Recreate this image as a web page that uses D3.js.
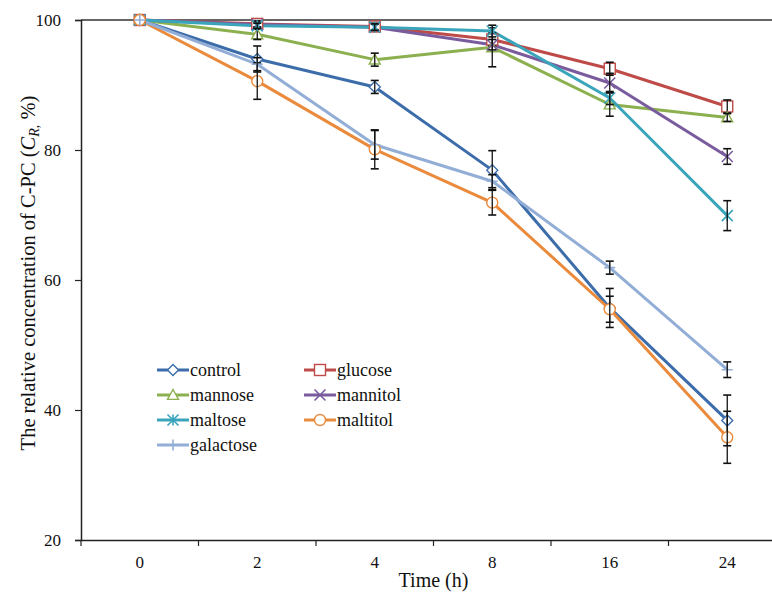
<!DOCTYPE html>
<html lang="en">
<head>
    <meta charset="UTF-8">
    <title>C-PC relative concentration</title>
    <script src="https://d3js.org/d3.v7.min.js"></script>
    <style>
        body { margin: 0; background: #fff; }
        svg { display: block; }
        svg text { font-family: "Liberation Serif", "Times New Roman", serif; }
    </style>
</head>
<body>
    <svg id="chart" width="772" height="597"></svg>
    <script>
        // data
        const times = ["0", "2", "4", "8", "16", "24"];
        const yTicks = [20, 40, 60, 80, 100];
        const seriesNames = ["control", "glucose", "mannose", "mannitol", "maltose", "maltitol", "galactose"];
        const control = [100, 94.0, 89.7, 76.9, 55.7, 38.4];
        const controlErr = [0, 2.0, 1.0, 3.0, 3.0, 3.9];
        const glucose = [100, 99.4, 99.0, 97.0, 92.5, 86.7];
        const glucoseErr = [0, 0.5, 0.5, 1.0, 1.0, 1.0];
        const mannose = [100, 97.8, 93.9, 95.8, 87.0, 85.0];
        const mannoseErr = [0, 0.8, 1.0, 3.0, 1.8, 0.6];
        const mannitol = [100, 99.3, 98.9, 96.2, 90.3, 79.0];
        const mannitolErr = [0, 0.4, 0.5, 0.8, 1.5, 1.2];
        const maltose = [100, 99.1, 98.9, 98.3, 88.0, 69.9];
        const maltoseErr = [0, 0.4, 0.5, 0.9, 1.0, 2.3];
        const maltitol = [100, 90.6, 80.1, 71.9, 55.5, 35.8];
        const maltitolErr = [0, 2.8, 3.0, 1.9, 2.0, 4.0];
        const galactose = [100, 93.2, 80.8, 75.2, 61.9, 46.2];
        const galactoseErr = [0, 1.0, 2.2, 1.0, 1.0, 1.2];

        const values = [control, glucose, mannose, mannitol, maltose, maltitol, galactose];
        const errors = [controlErr, glucoseErr, mannoseErr, mannitolErr, maltoseErr, maltitolErr, galactoseErr];
        const colors = ["#3C6DAA", "#BE4B48", "#8CB04F", "#7A5C9E", "#3AA5BA", "#EA8A3C", "#93AED6"];
        const markers = ["diamond", "square", "triangle", "cross", "asterisk", "circle", "plus"];

        const serif = "Liberation Serif";
        const svg = d3.select("#chart");
        const m = { left: 81, right: 786, top: 20, bottom: 540 };

        const x = d3.scaleBand().domain(times).range([m.left, m.right]);
        const y = d3.scaleLinear().domain([20, 100]).range([m.bottom, m.top]);

        // top line at 100
        svg.append("line")
            .attr("x1", m.left).attr("x2", 772)
            .attr("y1", y(100)).attr("y2", y(100))
            .attr("stroke", "#333").attr("stroke-width", 1.5);

        // y axis
        const yAxis = svg.append("g")
            .attr("transform", `translate(${m.left},0)`)
            .call(d3.axisLeft(y).tickValues(yTicks).tickSize(6).tickPadding(14))
            .attr("font-family", serif);
        yAxis.select(".domain").attr("stroke", "#222").attr("stroke-width", 1.5);
        yAxis.selectAll(".tick line").attr("stroke", "#222").attr("stroke-width", 1.2);
        yAxis.selectAll("text").attr("font-size", 17).attr("fill", "#111")
            .attr("font-family", serif);

        // x axis: ticks at band edges
        const xAxis = svg.append("g")
            .attr("transform", `translate(0,${m.bottom})`)
            .call(d3.axisBottom(x).tickSize(0).tickPadding(16))
            .attr("font-family", serif);
        xAxis.select(".domain").attr("stroke", "#222").attr("stroke-width", 1.5);
        xAxis.selectAll("text").attr("font-size", 17).attr("fill", "#111")
            .attr("font-family", serif);
        xAxis.selectAll("line.edge")
            .data(times)
            .enter().append("line")
            .attr("class", "edge")
            .attr("x1", d => x(d)).attr("x2", d => x(d))
            .attr("y1", 0).attr("y2", 6)
            .attr("stroke", "#222").attr("stroke-width", 1.2);

        // axis titles
        svg.append("text")
            .attr("x", x("8")).attr("y", 587)
            .attr("text-anchor", "middle").attr("font-size", 20).attr("fill", "#111")
            .attr("font-family", serif)
            .text("Time (h)");

        const yTitle = svg.append("text")
            .attr("transform", "translate(35,273) rotate(-90)")
            .attr("text-anchor", "middle").attr("font-size", 20.5).attr("fill", "#111")
            .attr("font-family", serif);
        yTitle.append("tspan").text("The relative concentration of C-PC (");
        yTitle.append("tspan").attr("font-style", "italic").text("C");
        yTitle.append("tspan").attr("font-style", "italic").attr("font-size", 14).attr("dy", 4).text("R,");
        yTitle.append("tspan").attr("dy", -4).text(" %)");

        // marker drawing
        function drawMarker(g, type, color, size) {
            const s = size / 2;
            if (type === "diamond") {
                g.append("path").attr("d", `M0,${-s}L${s},0L0,${s}L${-s},0Z`)
                    .attr("fill", "#fff").attr("stroke", color).attr("stroke-width", 1.4);
            } else if (type === "square") {
                g.append("rect").attr("x", -s).attr("y", -s).attr("width", size).attr("height", size)
                    .attr("fill", "#fff").attr("stroke", color).attr("stroke-width", 1.4);
            } else if (type === "triangle") {
                g.append("path").attr("d", `M0,${-s}L${s},${s * 0.8}L${-s},${s * 0.8}Z`)
                    .attr("fill", "#fff").attr("stroke", color).attr("stroke-width", 1.4);
            } else if (type === "circle") {
                g.append("circle").attr("r", s)
                    .attr("fill", "#fff").attr("stroke", color).attr("stroke-width", 1.4);
            } else if (type === "cross") {
                g.append("path").attr("d", `M${-s},${-s}L${s},${s}M${-s},${s}L${s},${-s}`)
                    .attr("stroke", color).attr("stroke-width", 1.6);
            } else if (type === "asterisk") {
                g.append("path").attr("d", `M${-s},${-s}L${s},${s}M${-s},${s}L${s},${-s}M0,${-s}L0,${s}`)
                    .attr("stroke", color).attr("stroke-width", 1.6);
            } else if (type === "plus") {
                g.append("path").attr("d", `M${-s},0L${s},0M0,${-s}L0,${s}`)
                    .attr("stroke", color).attr("stroke-width", 1.6);
            }
        }

        const cx = d => x(d) + x.bandwidth() / 2;
        const line = d3.line().x(d => cx(d.t)).y(d => y(d.v));

        // series lines
        seriesNames.forEach((name, i) => {
            const pts = times.map((t, j) => ({ t: t, v: values[i][j], e: errors[i][j] }));
            svg.append("path")
                .datum(pts)
                .attr("d", line)
                .attr("fill", "none")
                .attr("stroke", colors[i])
                .attr("stroke-width", 3)
                .attr("stroke-linejoin", "round");
        });

        // markers and error bars
        seriesNames.forEach((name, i) => {
            const pts = times.map((t, j) => ({ t: t, v: values[i][j], e: errors[i][j] }));
            pts.forEach(p => {
                const g = svg.append("g").attr("transform", `translate(${cx(p.t)},${y(p.v)})`);
                drawMarker(g, markers[i], colors[i], 11);
            });
            pts.filter(p => p.e > 0).forEach(p => {
                const g = svg.append("g").attr("stroke", "#111").attr("stroke-width", 1.3);
                g.append("line").attr("x1", cx(p.t)).attr("x2", cx(p.t))
                    .attr("y1", y(p.v + p.e)).attr("y2", y(p.v - p.e));
                [p.v + p.e, p.v - p.e].forEach(v => {
                    g.append("line").attr("x1", cx(p.t) - 4).attr("x2", cx(p.t) + 4)
                        .attr("y1", y(v)).attr("y2", y(v)).attr("stroke-width", 1.6);
                });
            });
        });

        // legend
        const legendPos = [[157, 370], [304, 370], [157, 395], [304, 395], [157, 420], [304, 420], [157, 445]];
        seriesNames.forEach((name, i) => {
            const [lx, ly] = legendPos[i];
            const g = svg.append("g").attr("transform", `translate(${lx},${ly})`);
            g.append("line").attr("x1", 0).attr("x2", 32).attr("y1", 0).attr("y2", 0)
                .attr("stroke", colors[i]).attr("stroke-width", 3);
            drawMarker(g.append("g").attr("transform", "translate(16,0)"), markers[i], colors[i], 11);
            g.append("text").attr("x", 33).attr("y", 6)
                .attr("font-size", 18).attr("fill", "#111")
                .attr("font-family", serif)
                .text(name);
        });
    </script>
</body>
</html>
